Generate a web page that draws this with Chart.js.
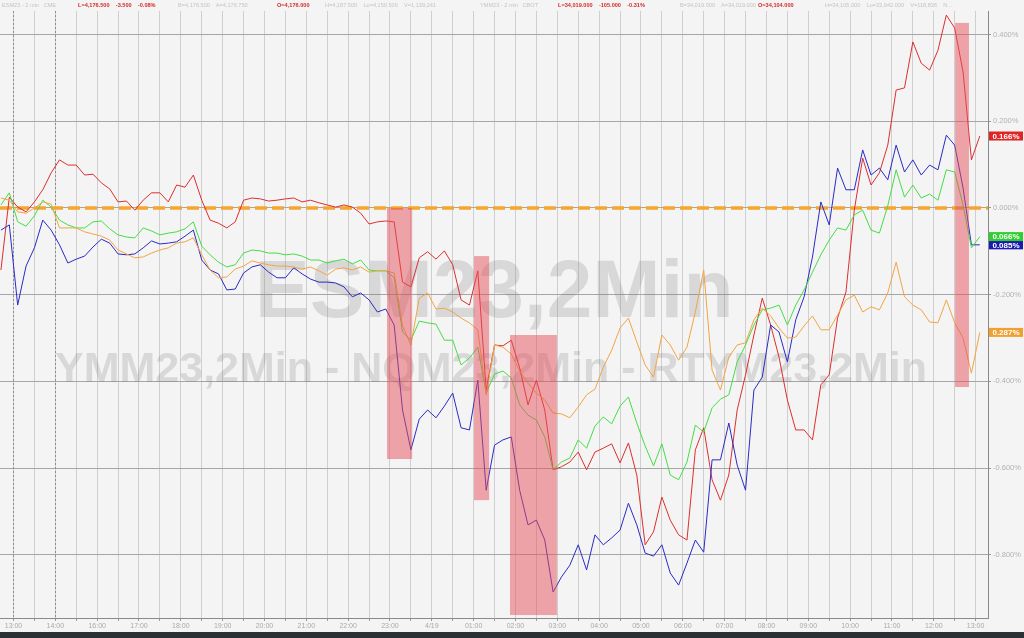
<!DOCTYPE html>
<html>
<head>
<meta charset="utf-8">
<script src="https://cdn.jsdelivr.net/npm/chart.js@4"></script>
<style>
  html, body { margin: 0; padding: 0; background: #f4f4f4; overflow: hidden; }
  #wrap { position: relative; width: 1024px; height: 638px; }
  #chart { position: absolute; left: 0; top: 0; }
  #header { position: absolute; left: 0; top: 0; width: 1024px; height: 11px; font-family: "Liberation Sans", Arial, sans-serif; font-size: 5.6px; }
  #header span { position: absolute; top: 2px; white-space: pre; color: #c4c4c4; }
  #header span.hot { color: #d42a2a; font-weight: bold; }
  #footer { position: absolute; left: 0; top: 632px; width: 1024px; height: 6px; background: #2b2f36; }
</style>
</head>
<body>
<div id="wrap">
  <canvas id="chart" width="1024" height="632"></canvas>
  <div id="header"></div>
  <div id="footer"></div>
</div>
<script>
// hour slots on the x axis (14:00 -> 16:00 has no gap in the session axis)
const xLabels = ['13:00','14:00','16:00','17:00','18:00','19:00','20:00','21:00','22:00','23:00','4/19',
                 '01:00','02:00','03:00','04:00','05:00','06:00','07:00','08:00','09:00','10:00','11:00','12:00','13:00'];
const yTicks = [0.4, 0.2, 0, -0.2, -0.4, -0.6, -0.8];

// % change, one sample every 0.2 hour slot starting at slot -0.3
const seriesStart = -0.3;
const seriesStep = 0.2;

const esValues = [
  -0.143, 0.025, 0.002, -0.009, 0.014, 0.042, 0.081, 0.111, 0.099, 0.099,
  0.076, 0.078, 0.058, 0.044, 0.014, 0.016, -0.005, 0.018, 0.035, 0.035,
  0.014, 0.053, 0.048, 0.076, 0.018, -0.028, -0.035, -0.046, -0.032, 0.018,
  0.023, 0.021, 0.016, 0.018, 0.021, 0.023, 0.014, 0.018, 0.012, 0.007,
  0.002, 0.007, 0.002, -0.012, -0.037, -0.032, -0.030, -0.032, -0.171, -0.182,
  -0.115, -0.101, -0.118, -0.099, -0.131, -0.212, -0.224, -0.145, -0.420, -0.316,
  -0.318, -0.305, -0.369, -0.454, -0.397, -0.466, -0.604, -0.597, -0.586, -0.563,
  -0.604, -0.563, -0.554, -0.544, -0.588, -0.542, -0.616, -0.777, -0.747, -0.667,
  -0.720, -0.754, -0.766, -0.558, -0.507, -0.627, -0.674, -0.616, -0.466, -0.385,
  -0.293, -0.208, -0.270, -0.344, -0.443, -0.512, -0.512, -0.535, -0.408, -0.385,
  -0.254, -0.194, -0.005, 0.115, 0.053, 0.081, 0.145, 0.272, 0.277, 0.383,
  0.334, 0.318, 0.364, 0.445, 0.415, 0.314, 0.111, 0.166
];
const nqValues = [
  -0.051, -0.039, -0.224, -0.134, -0.092, -0.028, -0.051, -0.085, -0.127, -0.118,
  -0.111, -0.090, -0.072, -0.081, -0.106, -0.108, -0.106, -0.092, -0.076, -0.083,
  -0.081, -0.078, -0.065, -0.051, -0.120, -0.143, -0.152, -0.189, -0.187, -0.150,
  -0.136, -0.131, -0.148, -0.161, -0.161, -0.138, -0.152, -0.164, -0.171, -0.171,
  -0.173, -0.182, -0.205, -0.196, -0.212, -0.240, -0.233, -0.270, -0.466, -0.558,
  -0.487, -0.466, -0.484, -0.457, -0.427, -0.507, -0.512, -0.397, -0.651, -0.547,
  -0.535, -0.528, -0.651, -0.731, -0.720, -0.766, -0.886, -0.851, -0.824, -0.777,
  -0.835, -0.754, -0.777, -0.761, -0.743, -0.681, -0.731, -0.796, -0.803, -0.777,
  -0.842, -0.870, -0.819, -0.766, -0.794, -0.581, -0.581, -0.496, -0.593, -0.651,
  -0.420, -0.390, -0.270, -0.286, -0.355, -0.258, -0.205, -0.113, 0.014, -0.039,
  0.092, 0.042, 0.042, 0.134, 0.076, 0.092, 0.065, 0.145, 0.083, 0.111,
  0.076, 0.099, 0.088, 0.168, 0.145, 0.046, -0.085, -0.085
];
const ymValues = [
  0.007, 0.035, -0.032, -0.042, -0.018, 0.018, 0.002, -0.028, -0.039, -0.046,
  -0.046, -0.032, -0.030, -0.048, -0.062, -0.067, -0.069, -0.046, -0.053, -0.062,
  -0.058, -0.055, -0.048, -0.032, -0.088, -0.108, -0.125, -0.136, -0.131, -0.104,
  -0.097, -0.099, -0.104, -0.104, -0.108, -0.106, -0.111, -0.120, -0.120, -0.127,
  -0.122, -0.118, -0.129, -0.120, -0.143, -0.145, -0.145, -0.161, -0.286, -0.305,
  -0.261, -0.265, -0.268, -0.305, -0.305, -0.362, -0.346, -0.321, -0.427, -0.383,
  -0.376, -0.392, -0.454, -0.478, -0.489, -0.528, -0.604, -0.586, -0.577, -0.535,
  -0.554, -0.503, -0.482, -0.498, -0.457, -0.436, -0.496, -0.549, -0.595, -0.544,
  -0.616, -0.627, -0.586, -0.501, -0.517, -0.461, -0.441, -0.431, -0.355, -0.316,
  -0.270, -0.235, -0.231, -0.224, -0.270, -0.224, -0.189, -0.148, -0.108, -0.074,
  -0.046, -0.051, -0.016, -0.005, -0.051, -0.058, 0.005, 0.088, 0.025, 0.053,
  0.023, 0.032, 0.018, 0.088, 0.083, 0.007, -0.092, -0.066
];
const rtyValues = [
  0.023, 0.018, -0.009, -0.012, 0.000, 0.014, 0.009, -0.046, -0.046, -0.046,
  -0.055, -0.060, -0.065, -0.074, -0.097, -0.106, -0.115, -0.113, -0.104, -0.097,
  -0.092, -0.081, -0.078, -0.069, -0.108, -0.143, -0.161, -0.159, -0.141, -0.134,
  -0.122, -0.127, -0.131, -0.134, -0.134, -0.136, -0.141, -0.136, -0.145, -0.155,
  -0.141, -0.138, -0.143, -0.136, -0.148, -0.145, -0.145, -0.150, -0.272, -0.316,
  -0.208, -0.196, -0.233, -0.231, -0.240, -0.254, -0.265, -0.281, -0.431, -0.316,
  -0.321, -0.337, -0.376, -0.404, -0.427, -0.443, -0.473, -0.475, -0.484, -0.459,
  -0.431, -0.418, -0.367, -0.328, -0.277, -0.254, -0.309, -0.362, -0.390, -0.293,
  -0.316, -0.351, -0.321, -0.240, -0.143, -0.374, -0.420, -0.344, -0.316, -0.311,
  -0.258, -0.231, -0.249, -0.277, -0.300, -0.298, -0.272, -0.249, -0.281, -0.281,
  -0.247, -0.212, -0.201, -0.240, -0.228, -0.235, -0.196, -0.125, -0.205, -0.224,
  -0.235, -0.263, -0.265, -0.212, -0.265, -0.300, -0.381, -0.287
];

// shaded spans: [slot from, slot to, top %, bottom %]
const highlightBoxes = [
  [8.93, 9.53, 0.0, -0.579],
  [11.01, 11.37, -0.111, -0.674],
  [11.87, 12.99, -0.293, -0.939],
  [22.51, 22.84, 0.427, -0.413]
];
const sessionBreaks = [0, 1];

const headerTokens = [
  [2, 'ESM23 - 2 min   CME', false],
  [78, 'L=4,176.500    -3.500    -0.08%', true],
  [178, 'B=4,176.500    A=4,176.750', false],
  [277, 'O=4,176.000', true],
  [325, 'H=4,187.500    Lo=4,150.500    V=1,139,241', false],
  [480, 'YMM23 - 2 min   CBOT', false],
  [558, 'L=34,019.000    -105.000    -0.31%', true],
  [680, 'B=34,019.000    A=34,019.000', false],
  [758, 'O=34,104.000', true],
  [825, 'H=34,105.000    Lo=33,942.000    V=118,836    N...', false]
];

const X_MIN = -0.3227, X_MAX = 23.296;
const Y_MIN = -0.9458, Y_MAX = 0.4544;

const header = document.getElementById('header');
headerTokens.forEach(([x, text, hot]) => {
  const s = document.createElement('span');
  s.textContent = text;
  s.style.left = x + 'px';
  if (hot) s.className = 'hot';
  header.appendChild(s);
});

const toPoints = (vals) => vals.map((v, i) => ({ x: seriesStart + i * seriesStep, y: v }));

const series = [
  { label: 'RTYM23', values: rtyValues, color: '#f2a444', tag: '#f0a030' },
  { label: 'YMM23', values: ymValues, color: '#44dd44', tag: '#2fcf2f' },
  { label: 'NQM23', values: nqValues, color: '#2a2ac4', tag: '#1a1ab0' },
  { label: 'ESM23', values: esValues, color: '#dd2e2e', tag: '#e02424' }
];

const datasets = series.map(s => ({
  label: s.label,
  data: toPoints(s.values),
  borderColor: s.color,
  borderWidth: 1,
  pointRadius: 0,
  tension: 0,
  fill: false
}));
datasets.push({
  label: 'zero',
  data: [{ x: X_MIN, y: 0 }, { x: X_MAX, y: 0 }],
  borderColor: '#f5a530',
  borderWidth: 3.5,
  borderDash: [12, 5],
  pointRadius: 0
});

const backdrop = {
  id: 'backdrop',
  beforeDatasetsDraw(chart) {
    const { ctx, chartArea: a, scales: { x } } = chart;
    ctx.save();
    ctx.strokeStyle = '#8e8e8e';
    ctx.lineWidth = 1;
    ctx.setLineDash([2, 2]);
    sessionBreaks.forEach(v => {
      const px = Math.round(x.getPixelForValue(v)) + 0.5;
      ctx.beginPath();
      ctx.moveTo(px, a.top);
      ctx.lineTo(px, a.bottom);
      ctx.stroke();
    });
    ctx.setLineDash([]);
    ctx.fillStyle = 'rgba(120,120,120,0.22)';
    ctx.textBaseline = 'alphabetic';
    ctx.font = 'bold 82px "Liberation Sans", Arial, sans-serif';
    ctx.fillText('ESM23,2Min', 255, 317);
    ctx.font = 'bold 43px "Liberation Sans", Arial, sans-serif';
    ctx.fillText('YMM23,2Min - NQM23,2Min - RTYM23,2Min', 55, 382);
    ctx.restore();
  }
};

const highlights = {
  id: 'highlights',
  afterDatasetsDraw(chart) {
    const { ctx, scales: { x, y } } = chart;
    ctx.save();
    ctx.fillStyle = 'rgba(230,80,90,0.5)';
    highlightBoxes.forEach(([x0, x1, y0, y1]) => {
      const l = x.getPixelForValue(x0), r = x.getPixelForValue(x1);
      const t = y.getPixelForValue(y0), b = y.getPixelForValue(y1);
      ctx.fillRect(l, t, r - l, b - t);
    });
    ctx.restore();
  }
};

const lastTags = {
  id: 'lastTags',
  afterDraw(chart) {
    const { ctx, chartArea: a, scales: { y } } = chart;
    ctx.save();
    ctx.font = 'bold 8px "Liberation Sans", Arial, sans-serif';
    ctx.textAlign = 'center';
    ctx.textBaseline = 'middle';
    series.slice().reverse().forEach(s => {
      const last = s.values[s.values.length - 1];
      const py = y.getPixelForValue(last);
      ctx.fillStyle = s.tag;
      ctx.fillRect(a.right + 1, py - 4.5, 34, 9);
      ctx.fillStyle = '#ffffff';
      ctx.fillText(Math.abs(last).toFixed(3) + '%', a.right + 18, py + 0.5);
    });
    ctx.restore();
  }
};

new Chart(document.getElementById('chart'), {
  type: 'line',
  data: { datasets: datasets },
  options: {
    responsive: false,
    animation: false,
    events: [],
    layout: { padding: { top: 11, left: 0, right: 0, bottom: 0 } },
    plugins: { legend: { display: false }, tooltip: { enabled: false } },
    scales: {
      x: {
        type: 'linear',
        min: X_MIN,
        max: X_MAX,
        afterBuildTicks: (axis) => {
          const t = [];
          for (let k = 0; k <= 46; k++) t.push({ value: k / 2 });
          axis.ticks = t;
        },
        afterFit: (axis) => { axis.height = 14; },
        ticks: {
          autoSkip: false,
          maxRotation: 0,
          minRotation: 0,
          padding: 1,
          color: '#a9a9a9',
          font: { size: 7, family: '"Liberation Sans", Arial, sans-serif' },
          callback: (v) => Number.isInteger(v) ? xLabels[v] : ''
        },
        grid: { color: '#cfcfcf', lineWidth: 1, tickLength: 3, tickColor: '#9a9a9a' },
        border: { color: '#8a8a8a' }
      },
      y: {
        position: 'right',
        min: Y_MIN,
        max: Y_MAX,
        afterBuildTicks: (axis) => { axis.ticks = yTicks.map(v => ({ value: v })); },
        afterFit: (axis) => { axis.width = 36; },
        ticks: {
          padding: 2,
          color: '#b2b2b2',
          font: { size: 7.5, family: '"Liberation Sans", Arial, sans-serif' },
          callback: (v) => v.toFixed(3) + '%'
        },
        grid: { color: '#a6a6a6', lineWidth: 1, tickLength: 3, tickColor: '#9a9a9a' },
        border: { color: '#8a8a8a' }
      }
    }
  },
  plugins: [backdrop, highlights, lastTags]
});
</script>
</body>
</html>
